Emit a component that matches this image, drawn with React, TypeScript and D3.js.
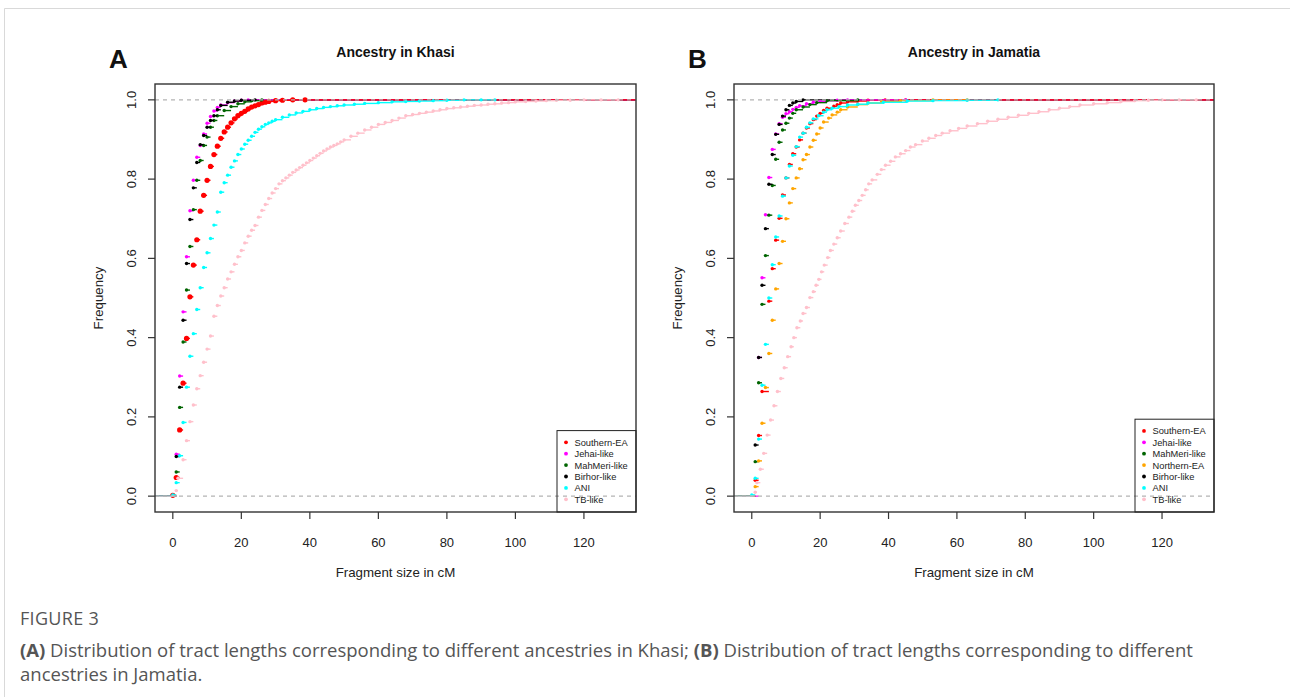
import React from 'react';
import * as d3 from 'd3';

// legend order and colours, as in the two R plots
const khasiGroups = ['Southern-EA', 'Jehai-like', 'MahMeri-like', 'Birhor-like', 'ANI', 'TB-like'];
const jamatiaGroups = ['Southern-EA', 'Jehai-like', 'MahMeri-like', 'Northern-EA', 'Birhor-like', 'ANI', 'TB-like'];
const groupColors: Record<string, string> = {
  'Southern-EA': '#ff0000',
  'Jehai-like': '#ff00ff',
  'MahMeri-like': '#006400',
  'Northern-EA': '#ffa500',
  'Birhor-like': '#000000',
  'ANI': '#00ffff',
  'TB-like': '#ffc0cb',
};

const xTicks = [0, 20, 40, 60, 80, 100, 120];
const yTicks = [0, 0.2, 0.4, 0.6, 0.8, 1.0];

// ECDF points [fragment size in cM, cumulative frequency]
// --- Khasi
const khasiSouthernEA = [[0, 0.002], [1, 0.047], [2, 0.167], [3, 0.285], [4, 0.398], [5, 0.503], [6, 0.583], [7, 0.647], [8, 0.719], [9, 0.759], [10, 0.797], [11, 0.832], [12, 0.862], [13, 0.883], [14, 0.903], [15, 0.919], [16, 0.931], [17, 0.942], [18, 0.952], [19, 0.96], [20, 0.966], [21, 0.971], [22, 0.977], [23, 0.982], [24, 0.985], [25, 0.988], [26, 0.992], [27, 0.994], [28, 0.996], [30, 0.998], [32, 0.999], [35, 1.0], [38.6, 1.0]];
const khasiJehai = [[1, 0.106], [2, 0.303], [3, 0.465], [4, 0.604], [5, 0.72], [6, 0.797], [7, 0.855], [8, 0.885], [9, 0.914], [10, 0.941], [11, 0.958], [12, 0.972], [13, 0.981], [14, 0.987], [16, 0.993], [18, 0.997], [20, 0.999], [22, 1.0]];
const khasiMahMeri = [[1, 0.061], [2, 0.224], [3, 0.389], [4, 0.52], [5, 0.63], [6, 0.723], [7, 0.797], [8, 0.847], [9, 0.885], [10, 0.906], [11, 0.931], [12, 0.948], [13, 0.96], [15, 0.973], [17, 0.983], [19, 0.99], [21, 0.995], [23, 0.998], [26, 1.0]];
const khasiBirhor = [[1, 0.1], [2, 0.275], [3, 0.444], [4, 0.587], [5, 0.698], [6, 0.778], [7, 0.842], [8, 0.887], [9, 0.91], [10, 0.931], [11, 0.948], [12, 0.96], [13, 0.975], [14, 0.986], [16, 0.994], [18, 0.997], [20, 0.999], [24, 1.0]];
const khasiANI = [[0, 0.003], [1, 0.034], [2, 0.102], [3, 0.186], [4, 0.275], [5, 0.353], [6, 0.41], [7, 0.471], [8, 0.526], [9, 0.577], [10, 0.614], [11, 0.65], [12, 0.684], [13, 0.717], [14, 0.767], [15, 0.791], [16, 0.81], [17, 0.83], [18, 0.846], [19, 0.862], [20, 0.876], [21, 0.888], [22, 0.898], [23, 0.908], [24, 0.918], [25, 0.926], [26, 0.932], [27, 0.938], [28, 0.942], [29, 0.946], [30, 0.95], [32, 0.956], [34, 0.962], [36, 0.967], [38, 0.971], [40, 0.975], [42, 0.978], [44, 0.981], [46, 0.983], [48, 0.985], [50, 0.987], [53, 0.989], [56, 0.991], [60, 0.993], [64, 0.995], [68, 0.996], [72, 0.997], [76, 0.998], [80, 0.999], [85, 1.0], [90, 1.0], [94, 1.0]];
const khasiTB = [[1, 0.014], [1.5, 0.045], [3, 0.092], [4, 0.14], [5, 0.188], [6, 0.23], [7, 0.271], [8, 0.304], [9, 0.338], [10, 0.371], [11, 0.404], [12, 0.454], [13, 0.481], [14, 0.505], [15, 0.526], [16, 0.548], [17, 0.566], [18, 0.585], [19, 0.604], [20, 0.62], [21, 0.639], [22, 0.656], [23, 0.671], [24, 0.683], [25, 0.704], [26, 0.721], [27, 0.736], [28, 0.751], [29, 0.765], [30, 0.776], [31, 0.788], [32, 0.796], [33, 0.803], [34, 0.81], [35, 0.817], [36, 0.823], [37, 0.829], [38, 0.835], [39, 0.841], [40, 0.847], [41, 0.853], [42, 0.859], [43, 0.865], [44, 0.871], [45, 0.876], [46, 0.881], [47, 0.885], [48, 0.889], [49, 0.894], [50, 0.899], [52, 0.908], [54, 0.916], [56, 0.924], [58, 0.931], [60, 0.938], [62, 0.943], [64, 0.948], [66, 0.954], [68, 0.96], [70, 0.963], [72, 0.966], [74, 0.969], [76, 0.972], [78, 0.975], [80, 0.978], [82, 0.98], [84, 0.982], [86, 0.984], [88, 0.986], [90, 0.987], [92, 0.989], [94, 0.99], [96, 0.992], [98, 0.993], [100, 0.995], [103, 0.996], [106, 0.997], [109, 0.998], [112, 0.999], [116, 0.999], [120, 1.0], [125, 1.0], [130, 1.0]];

// --- Jamatia
const jamatiaSouthernEA = [[1, 0.04], [2, 0.153], [3, 0.264], [5, 0.492], [6, 0.574], [7, 0.646], [8, 0.701], [9, 0.76], [10, 0.803], [11, 0.837], [12, 0.864], [13, 0.881], [14, 0.899], [15, 0.916], [16, 0.929], [17, 0.94], [18, 0.95], [19, 0.959], [20, 0.966], [21, 0.973], [22, 0.979], [24, 0.984], [25, 0.988], [26, 0.992], [28, 0.995], [31, 0.997], [34, 0.999], [39, 1.0], [45, 1.0]];
const jamatiaJehai = [[2, 0.35], [3, 0.551], [4, 0.71], [5, 0.804], [6, 0.875], [7, 0.914], [8, 0.94], [9, 0.956], [10, 0.965], [11, 0.97], [12, 0.976], [13, 0.981], [14, 0.985], [16, 0.99], [18, 0.994], [20, 0.996], [22, 0.998], [25, 0.999], [28, 1.0], [45, 1.0]];
const jamatiaMahMeri = [[1, 0.087], [2, 0.286], [3, 0.484], [4, 0.607], [5, 0.709], [6, 0.784], [7, 0.85], [8, 0.893], [9, 0.924], [10, 0.941], [11, 0.954], [12, 0.966], [13, 0.975], [15, 0.982], [17, 0.988], [19, 0.993], [22, 0.998], [31, 1.0]];
const jamatiaNorthernEA = [[1, 0.024], [2, 0.089], [3, 0.184], [4, 0.274], [5, 0.36], [6, 0.444], [7, 0.523], [8, 0.587], [9, 0.643], [10, 0.7], [11, 0.74], [12, 0.776], [13, 0.803], [14, 0.826], [15, 0.849], [16, 0.862], [17, 0.881], [18, 0.898], [19, 0.914], [20, 0.929], [21, 0.944], [22.5, 0.954], [23.5, 0.962], [25, 0.969], [26, 0.975], [28, 0.982], [31, 0.988], [34, 0.992], [38, 0.996], [43.5, 0.998], [53, 1.0], [63, 1.0]];
const jamatiaBirhor = [[1, 0.129], [2, 0.35], [3, 0.532], [4, 0.675], [5, 0.787], [6, 0.862], [7, 0.913], [8, 0.938], [9, 0.959], [10, 0.975], [11, 0.986], [12, 0.992], [13, 0.996], [15, 1.0]];
const jamatiaANI = [[0, 0.003], [1, 0.045], [2, 0.144], [3, 0.28], [4, 0.383], [5, 0.5], [6, 0.584], [7, 0.654], [8, 0.707], [9, 0.757], [10, 0.803], [11, 0.833], [12, 0.86], [13, 0.882], [14, 0.906], [15, 0.916], [16, 0.931], [17, 0.942], [18, 0.952], [19.5, 0.96], [21, 0.969], [22, 0.975], [23.5, 0.979], [25.5, 0.983], [28, 0.987], [31, 0.989], [34, 0.992], [38.5, 0.994], [45.5, 0.997], [53, 0.998], [63, 0.999], [72, 1.0]];
const jamatiaTB = [[1, 0.01], [1.5, 0.034], [2.5, 0.068], [3.5, 0.108], [4.5, 0.154], [5.5, 0.192], [6.5, 0.228], [7.5, 0.264], [8.5, 0.297], [9.5, 0.324], [10.5, 0.352], [11.5, 0.377], [12.3, 0.4], [13.2, 0.425], [14.2, 0.442], [15, 0.461], [16, 0.476], [17, 0.501], [18, 0.516], [18.8, 0.532], [19.6, 0.547], [20.4, 0.566], [21.2, 0.583], [22.2, 0.602], [23, 0.62], [24, 0.636], [25, 0.652], [26, 0.669], [27.2, 0.688], [28.4, 0.704], [29.4, 0.719], [30.3, 0.734], [31.3, 0.746], [32.3, 0.759], [33.3, 0.773], [34.2, 0.788], [35.2, 0.798], [36.7, 0.812], [37.9, 0.824], [39.1, 0.835], [40.6, 0.845], [42, 0.856], [43.5, 0.864], [45, 0.872], [46.4, 0.881], [47.9, 0.887], [49.9, 0.896], [51.8, 0.903], [53.8, 0.91], [55.7, 0.916], [58, 0.922], [60.5, 0.928], [63, 0.934], [66, 0.94], [69, 0.946], [72, 0.951], [75, 0.956], [78, 0.961], [81, 0.966], [84, 0.97], [87, 0.975], [90, 0.979], [93, 0.983], [96, 0.987], [100, 0.99], [104, 0.993], [108, 0.996], [112, 0.998], [116, 0.999], [120, 1.0], [125, 1.0], [130, 1.0]];

const khasiData: Record<string, number[][]> = {
  'Southern-EA': khasiSouthernEA,
  'Jehai-like': khasiJehai,
  'MahMeri-like': khasiMahMeri,
  'Birhor-like': khasiBirhor,
  'ANI': khasiANI,
  'TB-like': khasiTB,
};
const jamatiaData: Record<string, number[][]> = {
  'Southern-EA': jamatiaSouthernEA,
  'Jehai-like': jamatiaJehai,
  'MahMeri-like': jamatiaMahMeri,
  'Northern-EA': jamatiaNorthernEA,
  'Birhor-like': jamatiaBirhor,
  'ANI': jamatiaANI,
  'TB-like': jamatiaTB,
};

const FONT = '"Liberation Sans", Arial, Helvetica, sans-serif';

function EcdfPanel({ left, right, letter, title, groups, data, bigRed }) {
  const top = 84;
  const bottom = 512;
  const x = d3.scaleLinear().domain([-5.2, 135.2]).range([left, right]);
  const y = d3.scaleLinear().domain([-0.04, 1.04]).range([bottom, top]);
  const cx = (left + right) / 2;
  const cy = (top + bottom) / 2;

  // legend box sits in the bottom right corner of the plot box
  const legRowH = 11.4;
  const legH = groups.length * legRowH + 13;
  const legW = 79;

  return (
    <g fontFamily={FONT}>
      <text x={left - 46} y={68} fontSize={26} fontWeight="bold" fill="#111">{letter}</text>
      <text x={cx} y={57} fontSize={14} fontWeight="bold" textAnchor="middle" fill="#111">{title}</text>

      {/* F = 1 tails to the right, red ends up on top */}
      {[...groups].reverse().map((g) => {
        const d = data[g];
        const last = d[d.length - 1];
        return (
          <line key={'tail' + g} x1={x(last[0])} x2={right} y1={y(last[1])} y2={y(last[1])}
            stroke={groupColors[g]} strokeWidth={1.3} />
        );
      })}

      {groups.map((g) => {
        const d = data[g];
        const col = groupColors[g];
        const r = bigRed && g === 'Southern-EA' ? 2.6 : 1.7;
        return (
          <g key={g}>
            <line x1={left} x2={x(d[0][0])} y1={y(0)} y2={y(0)} stroke={col} strokeWidth={1.2} />
            {d.map((p, i) => (i < d.length - 1 ? (
              <line key={'s' + i} x1={x(p[0])} x2={x(d[i + 1][0])} y1={y(p[1])} y2={y(p[1])}
                stroke={col} strokeWidth={1.4} />
            ) : null))}
            {d.map((p, i) => (
              <circle key={'c' + i} cx={x(p[0])} cy={y(p[1])} r={r} fill={col} />
            ))}
          </g>
        );
      })}

      {[0, 1].map((v) => (
        <line key={'h' + v} x1={left} x2={right} y1={y(v)} y2={y(v)}
          stroke="#b4b4b4" strokeWidth={1.2} strokeDasharray="4,4" />
      ))}

      <rect x={left} y={top} width={right - left} height={bottom - top} fill="none" stroke="#333" strokeWidth={1.4} />

      {xTicks.map((t) => (
        <g key={'xt' + t}>
          <line x1={x(t)} x2={x(t)} y1={bottom} y2={bottom + 7} stroke="#333" strokeWidth={1.2} />
          <text x={x(t)} y={547} fontSize={13} textAnchor="middle" fill="#222">{t}</text>
        </g>
      ))}
      {yTicks.map((t) => (
        <g key={'yt' + t}>
          <line x1={left - 7} x2={left} y1={y(t)} y2={y(t)} stroke="#333" strokeWidth={1.2} />
          <text transform={`translate(${left - 19},${y(t)}) rotate(-90)`} fontSize={13}
            textAnchor="middle" fill="#222">{t.toFixed(1)}</text>
        </g>
      ))}
      <text x={cx} y={577} fontSize={13.3} textAnchor="middle" fill="#222">Fragment size in cM</text>
      <text transform={`translate(${left - 52},${cy}) rotate(-90)`} fontSize={13.3}
        textAnchor="middle" fill="#222">Frequency</text>

      <rect x={right - legW} y={bottom - legH} width={legW} height={legH} fill="none" stroke="#222" strokeWidth={1} />
      {groups.map((g, i) => {
        const ly = bottom - legH + 11.7 + i * legRowH;
        return (
          <g key={'lg' + g}>
            <circle cx={right - legW + 9} cy={ly} r={1.9} fill={groupColors[g]} />
            <text x={right - legW + 17.5} y={ly + 3.4} fontSize={9.3} fill="#222">{g}</text>
          </g>
        );
      })}
    </g>
  );
}

export default function App() {
  return (
    <svg width={1290} height={697} style={{ position: 'absolute', left: 0, top: 0, background: '#fff' }}>
      <rect x={0} y={0} width={1290} height={697} fill="#fff" />
      <path d="M4.5,697 V8.5 H1290" fill="none" stroke="#d9d9d9" strokeWidth={1} />

      <EcdfPanel left={155} right={636} letter="A" title="Ancestry in Khasi"
        groups={khasiGroups} data={khasiData} bigRed />
      <EcdfPanel left={734} right={1214} letter="B" title="Ancestry in Jamatia"
        groups={jamatiaGroups} data={jamatiaData} bigRed={false} />

      <g fontFamily='"Open Sans", "Noto Sans", sans-serif' fill="#555">
        <text x={20} y={624.5} fontSize={18} letterSpacing={0.3}>FIGURE 3</text>
        <text x={20} y={657} fontSize={18.5}>
          <tspan fontWeight="bold">(A)</tspan> Distribution of tract lengths corresponding to different ancestries in Khasi; <tspan fontWeight="bold">(B)</tspan> Distribution of tract lengths corresponding to different
        </text>
        <text x={20} y={681} fontSize={18.5}>ancestries in Jamatia.</text>
      </g>
    </svg>
  );
}
